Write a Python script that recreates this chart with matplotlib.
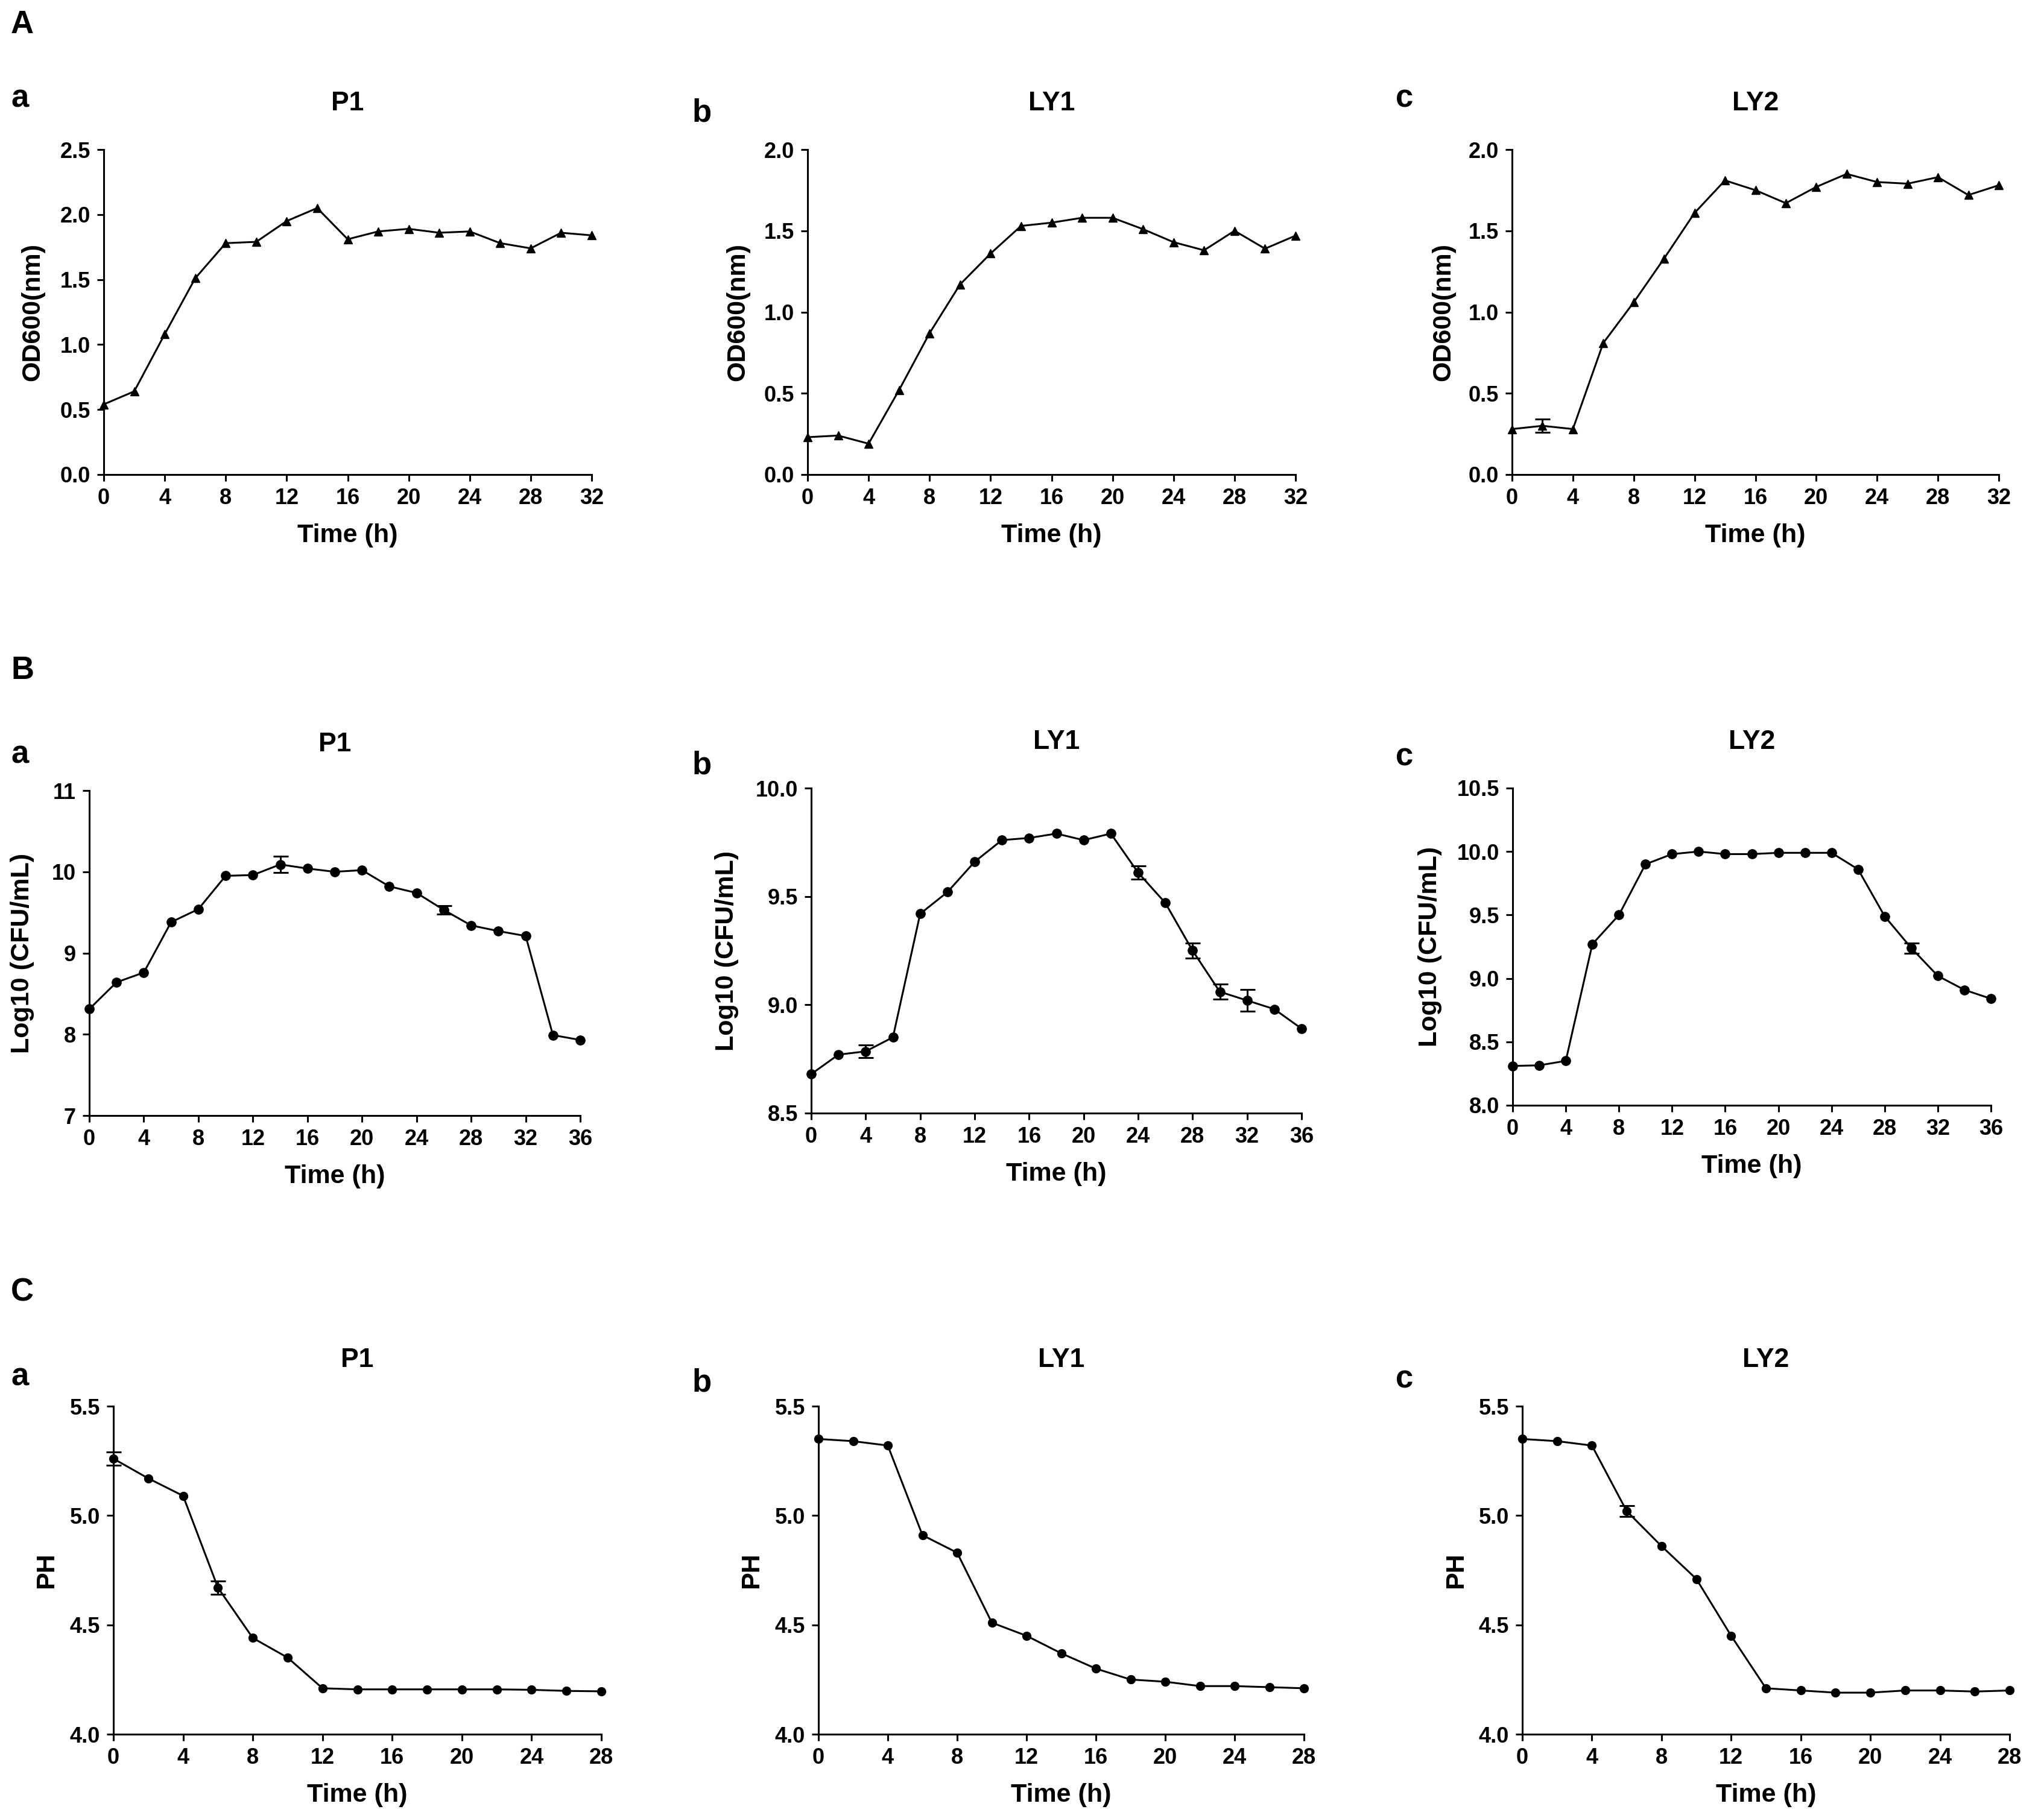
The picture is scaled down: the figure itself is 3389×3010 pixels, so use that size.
import numpy as np
import matplotlib.pyplot as plt

plt.rcParams['font.family'] = ['Liberation Sans', 'DejaVu Sans']
plt.rcParams['font.weight'] = 'bold'

# ---- data ----
time_a = [0, 2, 4, 6, 8, 10, 12, 14, 16, 18, 20, 22, 24, 26, 28, 30, 32]
time_b = [0, 2, 4, 6, 8, 10, 12, 14, 16, 18, 20, 22, 24, 26, 28, 30, 32, 34, 36]
time_c = [0, 2, 4, 6, 8, 10, 12, 14, 16, 18, 20, 22, 24, 26, 28]

# A: OD600
od_p1 = [0.54, 0.64, 1.08, 1.51, 1.78, 1.79, 1.95, 2.05, 1.81, 1.87, 1.89,
         1.86, 1.87, 1.78, 1.74, 1.86, 1.84]
od_p1_err = [0] * 17
od_ly1 = [0.23, 0.24, 0.19, 0.52, 0.87, 1.17, 1.36, 1.53, 1.55, 1.58, 1.58,
          1.51, 1.43, 1.38, 1.50, 1.39, 1.47]
od_ly1_err = [0] * 17
od_ly2 = [0.28, 0.30, 0.28, 0.81, 1.06, 1.33, 1.61, 1.81, 1.75, 1.67, 1.77,
          1.85, 1.80, 1.79, 1.83, 1.72, 1.78]
od_ly2_err = [0, 0.04, 0, 0, 0, 0, 0, 0, 0, 0, 0, 0, 0, 0, 0, 0, 0]

# B: Log10 (CFU/mL)
cfu_p1 = [8.31, 8.64, 8.76, 9.38, 9.54, 9.95, 9.96, 10.09, 10.04, 10.00,
          10.02, 9.82, 9.74, 9.53, 9.34, 9.27, 9.21, 7.99, 7.93]
cfu_p1_err = [0, 0, 0, 0, 0, 0, 0, 0.10, 0, 0, 0, 0, 0, 0.05, 0, 0, 0, 0, 0]
cfu_ly1 = [8.68, 8.77, 8.785, 8.85, 9.42, 9.52, 9.66, 9.76, 9.77, 9.79, 9.76,
           9.79, 9.61, 9.47, 9.25, 9.06, 9.02, 8.98, 8.89]
cfu_ly1_err = [0, 0, 0.03, 0, 0, 0, 0, 0, 0, 0, 0, 0, 0.03, 0, 0.035, 0.035,
               0.05, 0, 0]
cfu_ly2 = [8.31, 8.315, 8.35, 9.27, 9.50, 9.90, 9.98, 10.00, 9.98, 9.98, 9.99,
           9.99, 9.99, 9.86, 9.49, 9.24, 9.02, 8.91, 8.84]
cfu_ly2_err = [0, 0, 0, 0, 0, 0, 0, 0, 0, 0, 0, 0, 0, 0, 0, 0.04, 0, 0, 0]

# C: PH
ph_p1 = [5.26, 5.17, 5.09, 4.67, 4.44, 4.35, 4.21, 4.205, 4.205, 4.205, 4.205,
         4.205, 4.203, 4.198, 4.196]
ph_p1_err = [0.03, 0, 0, 0.03, 0, 0, 0, 0, 0, 0, 0, 0, 0, 0, 0]
ph_ly1 = [5.35, 5.34, 5.32, 4.91, 4.83, 4.51, 4.45, 4.37, 4.30, 4.25, 4.24,
          4.22, 4.22, 4.215, 4.21]
ph_ly1_err = [0] * 15
ph_ly2 = [5.35, 5.34, 5.32, 5.02, 4.86, 4.71, 4.45, 4.21, 4.20, 4.19, 4.19,
          4.20, 4.20, 4.195, 4.20]
ph_ly2_err = [0, 0, 0, 0.025, 0, 0, 0, 0, 0, 0, 0, 0, 0, 0, 0]

strains = ['P1', 'LY1', 'LY2']
sub_letters = ['a', 'b', 'c']
row_letters = ['A', 'B', 'C']

# ---- layout (pixels on a 3389 x 3010 canvas) ----
W, H = 3389, 3010
fig = plt.figure(figsize=(W / 100, H / 100), dpi=100)


def px_rect(left, right, top, bottom):
    return [left / W, 1 - bottom / H, (right - left) / W, (bottom - top) / H]


rows = [
    dict(t=time_a, ys=[od_p1, od_ly1, od_ly2], errs=[od_p1_err, od_ly1_err, od_ly2_err],
         marker='^', ms=10, ylabel='OD600(nm)', xmax=32,
         yticks=[[0.0, 0.5, 1.0, 1.5, 2.0, 2.5], [0.0, 0.5, 1.0, 1.5, 2.0], [0.0, 0.5, 1.0, 1.5, 2.0]],
         boxes=[(172, 981, 248, 787), (1339, 2148, 248, 787), (2507, 3314, 248, 787)],
         ylab_dx=[-98, -96, -94],
         letter_y=55, sub_y=[177, 201, 178]),
    dict(t=time_b, ys=[cfu_p1, cfu_ly1, cfu_ly2], errs=[cfu_p1_err, cfu_ly1_err, cfu_ly2_err],
         marker='o', ms=11, ylabel='Log10 (CFU/mL)', xmax=36,
         yticks=[[7, 8, 9, 10, 11], [8.5, 9.0, 9.5, 10.0], [8.0, 8.5, 9.0, 9.5, 10.0, 10.5]],
         boxes=[(148, 962, 1311, 1850), (1345, 2158, 1307, 1846), (2508, 3301, 1307, 1833)],
         ylab_dx=[-91, -120, -117],
         letter_y=1126, sub_y=[1266, 1284, 1270]),
    dict(t=time_c, ys=[ph_p1, ph_ly1, ph_ly2], errs=[ph_p1_err, ph_ly1_err, ph_ly2_err],
         marker='o', ms=10, ylabel='PH', xmax=28,
         yticks=[[4.0, 4.5, 5.0, 5.5]] * 3,
         boxes=[(188, 997, 2332, 2876), (1357, 2162, 2332, 2876), (2524, 3332, 2332, 2876)],
         ylab_dx=[-91, -91, -90],
         letter_y=2158, sub_y=[2297, 2307, 2301]),
]
sub_x = [18, 1148, 2314]

for r, row in enumerate(rows):
    fig.text(18 / W, 1 - row['letter_y'] / H, row_letters[r], fontsize=38,
             fontweight='bold', ha='left', va='baseline')
    for i in range(3):
        left, right, top, bottom = row['boxes'][i]
        ax = fig.add_axes(px_rect(left, right, top, bottom))
        t = np.array(row['t'])
        y = np.array(row['ys'][i])
        e = np.array(row['errs'][i])

        ax.plot(t, y, color='black', lw=2.2, marker=row['marker'],
                ms=row['ms'], clip_on=False, zorder=3)
        m = e > 0
        if m.any():
            ax.errorbar(t[m], y[m], yerr=e[m], fmt='none', ecolor='black',
                        elinewidth=2.2, capsize=9, capthick=2.2,
                        clip_on=False, zorder=4)

        yt = row['yticks'][i]
        ax.set_xlim(0, row['xmax'])
        ax.set_ylim(yt[0], yt[-1])
        ax.set_xticks(np.arange(0, row['xmax'] + 1, 4))
        ax.set_yticks(yt)
        if r == 1 and i == 0:
            ax.set_yticklabels([f'{v:g}' for v in yt])
        else:
            ax.set_yticklabels([f'{v:.1f}' for v in yt])

        for s in ['top', 'right']:
            ax.spines[s].set_visible(False)
        for s in ['left', 'bottom']:
            ax.spines[s].set_linewidth(2.2)
        ax.tick_params(direction='out', length=8, width=2.2, pad=8,
                       labelsize=26)
        for lab in ax.get_xticklabels() + ax.get_yticklabels():
            lab.set_fontweight('bold')

        h_px = bottom - top
        w_px = right - left
        ax.set_title(strains[i], fontsize=32, fontweight='bold', pad=47)
        ax.set_xlabel('Time (h)', fontsize=31, fontweight='bold')
        ax.xaxis.set_label_coords(0.5, -112 / h_px)
        ax.xaxis.label.set_va('baseline')
        ax.set_ylabel(row['ylabel'], fontsize=31, fontweight='bold')
        ax.yaxis.set_label_coords(row['ylab_dx'][i] / w_px, 0.5)

        fig.text(sub_x[i] / W, 1 - row['sub_y'][i] / H, sub_letters[i],
                 fontsize=38, fontweight='bold', ha='left', va='baseline')

fig.savefig('out.png', dpi=100, facecolor='white')
